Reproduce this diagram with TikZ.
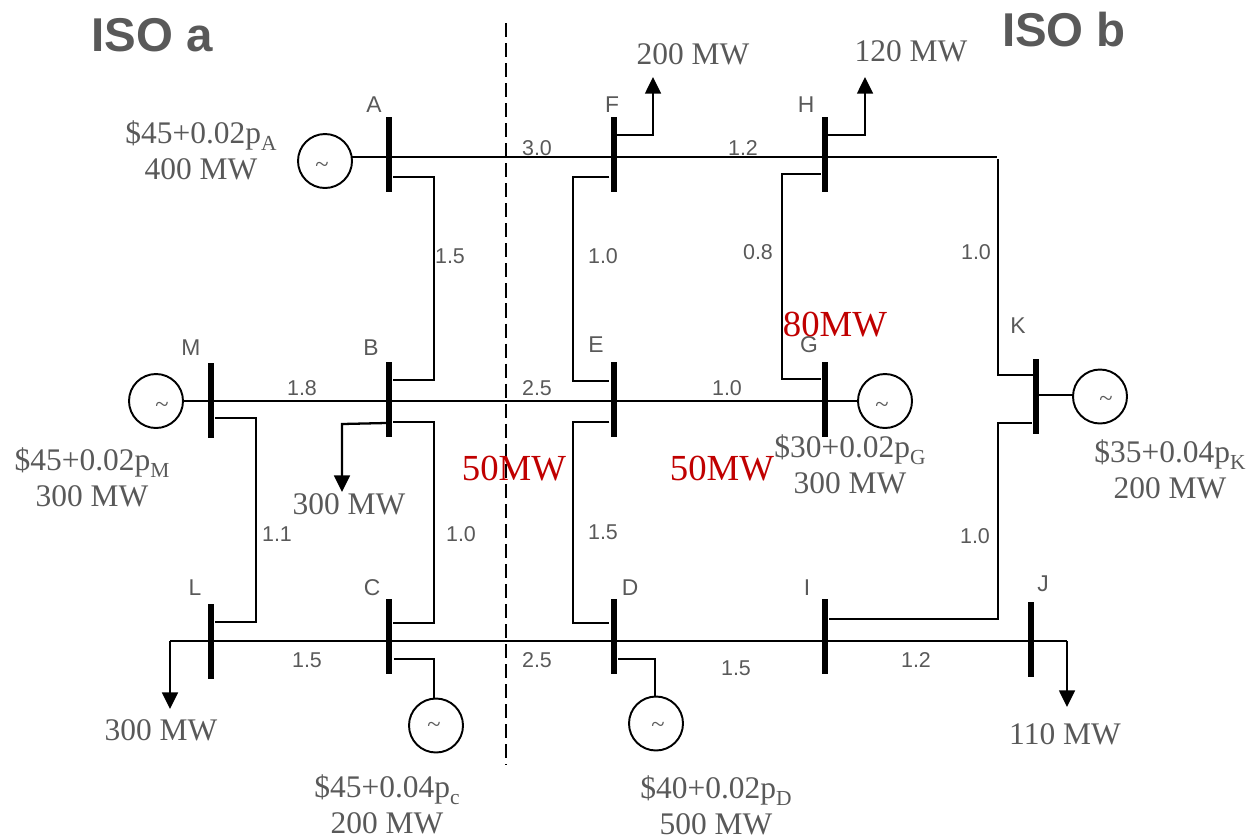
\documentclass[tikz,border=0pt]{standalone}
\usepackage{fontspec}
\setmainfont{Liberation Serif}
\setsansfont{Liberation Sans}
\usetikzlibrary{arrows.meta, positioning, calc}

\definecolor{txtgray}{HTML}{595959}
\definecolor{flowred}{HTML}{C00000}

\newcommand{\pidx}[1]{p\raisebox{-4.4pt}{\fontsize{12.2}{14}\selectfont #1}}

\tikzset{
  busbar/.style={rectangle,fill=black,inner sep=0pt,outer sep=0pt,minimum width=0.12cm,minimum height=1.5cm},
  gen/.style={circle,draw,line width=1.1pt,inner sep=0pt,outer sep=0pt,minimum size=1.08cm},
  tilde/.style={text=txtgray,inner sep=0pt,font=\fontsize{14}{16}\selectfont},
  busname/.style={text=txtgray,inner sep=0pt,font=\sffamily\fontsize{13}{15}\selectfont},
  linename/.style={text=txtgray,inner sep=0pt,font=\sffamily\fontsize{12.2}{14}\selectfont},
  mwtext/.style={text=txtgray,inner sep=0pt,align=center,font=\fontsize{17.9}{20.6}\selectfont},
  flowtext/.style={text=flowred,inner sep=0pt,font=\fontsize{20.9}{24}\selectfont},
  isotext/.style={text=txtgray,inner sep=0pt,font=\sffamily\bfseries\fontsize{27}{30}\selectfont},
  wire/.style={line width=1.1pt},
  tie/.style={wire,shorten <=0.7pt,shorten >=0.7pt},
  load/.style={line width=1.3pt,-{Triangle[width=9pt,length=9.5pt]}}
}

\begin{document}
\begin{tikzpicture}[x=0.2mm, y=-0.2mm]
\useasboundingbox (0,0) rectangle (1249,839);

% Buses
\foreach \i/\x/\y in {A/389/154.5,F/613.5/154.5,H/825/154.5,M/211/400.5,B/389/399,E/613.5/399,G/825/399,K/1036/396.5,L/211/641,C/389/636.5,D/613.5/636.5,I/824.5/636.5,J/1031/639} {
  \node[busbar] (bus\i) at (\x,\y) {};
}

% Generators
\node[gen] (genA) at (325,161) {};
\node[gen] (genM) at (156,401) {};
\node[gen] (genG) at (885,401) {};
\node[gen] (genK) at (1100,396.5) {};
\node[gen] (genC) at (436,725.5) {};
\node[gen] (genD) at (656,723.5) {};
\node[tilde] (tildeA) at (322,167) {\textasciitilde};
\node[tilde] (tildeM) at (162,407) {\textasciitilde};
\node[tilde] (tildeG) at (882,407) {\textasciitilde};
\node[tilde] (tildeK) at (1106,401) {\textasciitilde};
\node[tilde] (tildeC) at (434,727) {\textasciitilde};
\node[tilde] (tildeD) at (658,727) {\textasciitilde};

% Free ends of the long lines
\coordinate (cornerH) at (997,157);
\coordinate (endL) at (170,641);
\coordinate (endJ) at (1067,641);

% Main lines
\draw[wire] (genA.east |- 0,157) -- (busA |- 0,157) -- (busF |- 0,157) -- (busH |- 0,157) -- (cornerH);
\draw[wire] (genM.east) -- (busM |- 0,401) -- (busB |- 0,401) -- (busE |- 0,401) -- (busG |- 0,401) -- (genG.west);
\draw[wire] (endL) -- (busL |- 0,641) -- (busC |- 0,641) -- (busD |- 0,641) -- (busI |- 0,641) -- (busJ |- 0,641) -- (endJ);

% Vertical ties
\draw[tie] (busA.east |- 0,177) -| (434,380) -- (busB.east |- 0,380);
\draw[tie] (busF.west |- 0,177) -| (573,381) -- (busE.west |- 0,381);
\draw[tie] (busH.west |- 0,174) -| (782,379) -- (busG.west |- 0,379);
\draw[wire] (cornerH) ++(1,2) |- (busK.west |- 0,375);
\draw[tie] (busK.west |- 0,423) -| (998,619) -- (busI.east |- 0,619);
\draw[tie] (busM.east |- 0,418) -| (256,622) -- (busL.east |- 0,622);
\draw[tie] (busB.east |- 0,422) -| (434,623) -- (busC.east |- 0,623);
\draw[tie] (busE.west |- 0,422) -| (573,623) -- (busD.west |- 0,623);

% Generator stubs
\draw[wire] (busK.east |- 0,395) -- (genK.west |- 0,395);
\draw[wire,shorten <=1pt] (busC.east |- 0,659) -| (genC.north -| 434,0);
\draw[wire,shorten <=1pt] (busD.east |- 0,659) -| (genD.north -| 655,0);

% Loads
\draw[load] (busF.east |- 0,135) -| (653,77);
\draw[load] (busH.east |- 0,135) -| (865,77);
\draw[load] (busB.west |- 0,423) -- (342,424) -- (342,492);
\draw[load] (endL) -- (170,709);
\draw[load] (endJ) -- (1067,707);

% Border between the two areas
\draw[line width=1.1pt,dash pattern=on 8pt off 3.4pt] (506,23) coordinate (cutTop) -- (506,765) coordinate (cutBot);

% Bus names
\foreach \i/\x/\y in {A/374/105,F/612/105,H/806/105,M/191/348,B/371/348,E/596/345,G/809/345,K/1018/326,L/195/588,C/372/588,D/630/588,I/807/588,J/1043/584} {
  \node[busname] (name\i) at (\x,\y) {\i};
}

% Line values
\node[linename] (lineAF) at (537,148) {3.0};
\node[linename] (lineFH) at (743,148) {1.2};
\node[linename] (lineAB) at (450,256) {1.5};
\node[linename] (lineFE) at (603,256) {1.0};
\node[linename] (lineHG) at (758,252) {0.8};
\node[linename] (lineHK) at (976,252) {1.0};
\node[linename] (lineMB) at (302,388) {1.8};
\node[linename] (lineBE) at (537,388) {2.5};
\node[linename] (lineEG) at (727,388) {1.0};
\node[linename] (lineML) at (277,534) {1.1};
\node[linename] (lineBC) at (461,534) {1.0};
\node[linename] (lineED) at (603,532) {1.5};
\node[linename] (lineKI) at (975,536) {1.0};
\node[linename] (lineLC) at (307,660) {1.5};
\node[linename] (lineCD) at (537,660) {2.5};
\node[linename] (lineDI) at (736,668) {1.5};
\node[linename] (lineIJ) at (916,660) {1.2};

% Offers
\node[mwtext] (offerA) at (201,150) {\$45+0.02\pidx{A}\\400 MW};
\node[mwtext] (offerM) at (92,477) {\$45+0.02\pidx{M}\\300 MW};
\node[mwtext] (offerG) at (850,464) {\$30+0.02\pidx{G}\\300 MW};
\node[mwtext] (offerK) at (1170,469) {\$35+0.04\pidx{K}\\200 MW};
\node[mwtext] (offerC) at (387,804) {\$45+0.04\pidx{c}\\200 MW};
\node[mwtext] (offerD) at (716,805) {\$40+0.02\pidx{D}\\500 MW};

% Load values
\node[mwtext] (loadF) at (693,54) {200 MW};
\node[mwtext] (loadH) at (911,51) {120 MW};
\node[mwtext] (loadB) at (349,504) {300 MW};
\node[mwtext] (loadL) at (161,730) {300 MW};
\node[mwtext] (loadJ) at (1065,734) {110 MW};

% Flows
\node[flowtext] (flowBE) at (514,469) {50MW};
\node[flowtext] (flowEG) at (722,469) {50MW};
\node[flowtext] (flowHG) at (835,325) {80MW};

% Areas
\node[isotext] (isoA) at (152,35) {ISO a};
\node[isotext] (isoB) at (1064,30) {ISO b};

\end{tikzpicture}
\end{document}
